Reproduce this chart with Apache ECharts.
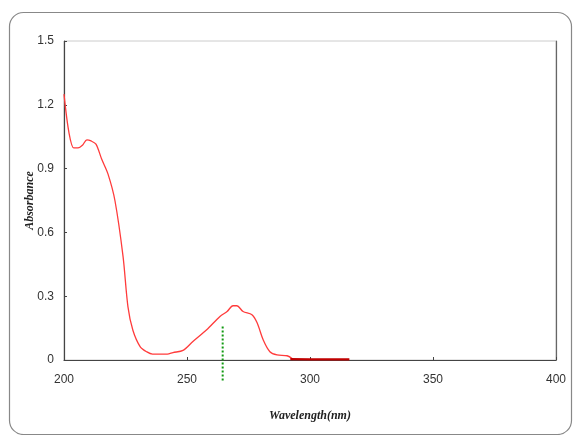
<!DOCTYPE html>
<html>
<head>
<meta charset="utf-8">
<script src="https://cdn.jsdelivr.net/npm/echarts@6/dist/echarts.min.js"></script>
<style>
html,body{margin:0;padding:0;background:#fff;}
#chart{width:573px;height:435px;}
</style>
</head>
<body>
<div id="chart"></div>
<script>
var wavelength = [200,202,204,205.7,207.5,209.3,211,213,215.3,217.9,220.7,224,226,228,231,233.7,236,242,244.3,248.4,252.4,258,263.4,266.3,268.7,270.3,272.8,276.4,278.5,281,283.7,286.6,290.7,293];
var absorbance = [1.25,1.07,0.997,0.997,1.01,1.035,1.03,1.015,0.945,0.874,0.75,0.487,0.25,0.14,0.062,0.038,0.028,0.028,0.035,0.045,0.087,0.142,0.205,0.228,0.255,0.255,0.228,0.213,0.175,0.094,0.039,0.024,0.02,0.005];
var tailWavelength = [292,300,310,316];
var tailAbsorbance = [0.004,0.003,0.003,0.003];
var markerWavelength = [264.5,264.5];
var markerAbsorbance = [0.157,-0.105];
var xTicks = [200,250,300,350,400];
var yTicks = ['0','0.3','0.6','0.9','1.2','1.5'];

function pairs(xs, ys){ return xs.map(function(x,i){ return [x, ys[i]]; }); }

var chart = echarts.init(document.getElementById('chart'));
var labelFont = {color:'#333', fontSize:12, fontFamily:'Liberation Sans Narrow, Liberation Sans, Arial'};
var titleFont = {color:'#222', fontSize:12, fontWeight:'bold', fontStyle:'italic', fontFamily:'Liberation Serif, Times New Roman, serif'};
chart.setOption({
  animation:false,
  backgroundColor:'#fff',
  graphic:[{type:'rect', shape:{x:9.5,y:12.5,width:562,height:422,r:14}, style:{fill:'none',stroke:'#888',lineWidth:1.2}, z:-1}],
  grid:{left:64,right:17,top:41,bottom:75,show:true,borderColor:'#ccc',borderWidth:1},
  xAxis:[{type:'value',min:xTicks[0],max:xTicks[xTicks.length-1],interval:50,
    axisLine:{show:true,onZero:false,lineStyle:{color:'#444',width:1.2}},
    axisTick:{show:true,inside:true,length:3,lineStyle:{color:'#444'}},
    axisLabel:Object.assign({margin:14},labelFont),
    splitLine:{show:false},
    name:'Wavelength(nm)',nameLocation:'middle',nameGap:50,nameMoveOverlap:false,nameTextStyle:titleFont}],
  yAxis:[{type:'value',min:0,max:1.5,interval:0.3,
    axisLine:{show:true,onZero:false,lineStyle:{color:'#444',width:1.2}},
    axisTick:{show:true,inside:true,length:3,lineStyle:{color:'#444'}},
    axisLabel:Object.assign({margin:10,formatter:function(v){ return yTicks[Math.round(v/0.3)]; }},labelFont),
    splitLine:{show:false},
    name:'Absorbance',nameLocation:'middle',nameGap:28,nameRotate:90,nameMoveOverlap:false,nameTextStyle:titleFont},
   {type:'value',min:0,max:1.5,position:'right',
    axisLine:{show:true,lineStyle:{color:'#666',width:1.2}},
    axisTick:{show:false},axisLabel:{show:false},splitLine:{show:false}}],
  series:[
    {type:'line',data:pairs(wavelength,absorbance),showSymbol:false,smooth:0.3,
     lineStyle:{color:'#ff3b3b',width:1.3},z:3},
    {type:'line',data:pairs(tailWavelength,tailAbsorbance),showSymbol:false,
     lineStyle:{color:'#c00000',width:2.2},z:4},
    {type:'line',data:pairs(markerWavelength,markerAbsorbance),showSymbol:false,clip:false,
     lineStyle:{color:'#119911',width:2,type:[2,2]},z:5}
  ]
});
</script>
</body>
</html>
